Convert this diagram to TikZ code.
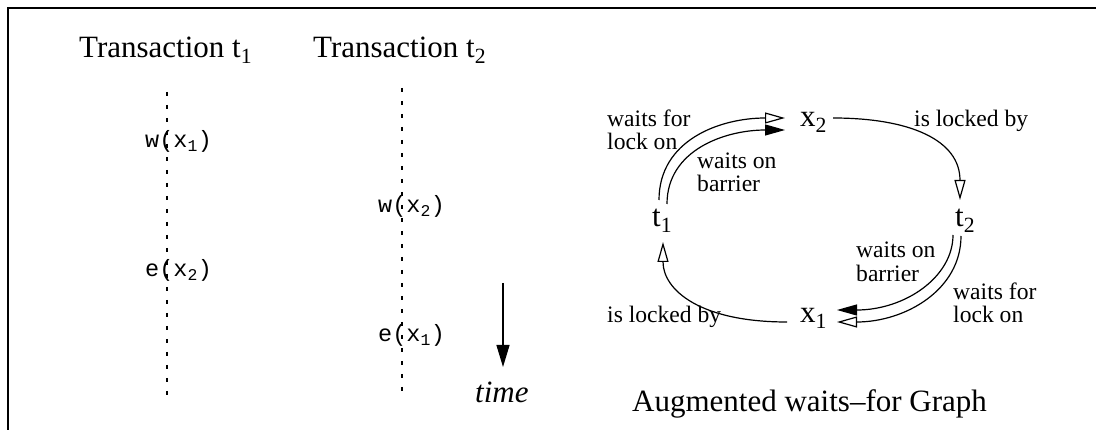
\documentclass[tikz,border=0pt]{standalone}
\usepackage{fontspec}
\setmainfont{Liberation Serif}
\setmonofont{Liberation Mono}
\usetikzlibrary{arrows.meta}

\begin{document}
\begin{tikzpicture}[x=1pt,y=-1pt,
  big/.style={font=\fontsize{31}{34}\selectfont, inner sep=0pt, anchor=base west},
  op/.style={font=\fontsize{23.5}{26}\selectfont\ttfamily, inner sep=0pt, anchor=base west},
  lbl/.style={font=\fontsize{23.6}{23.5}\selectfont, inner sep=0pt, anchor=base west},
  edge/.style={line width=1.2pt},
  lock/.style={edge, -{Triangle[open,length=20pt,width=11pt]}},
  barrier/.style={edge, -{Triangle[length=20pt,width=11pt]}},
  lifeline/.style={line width=1.3pt, dash pattern=on 4pt off 9pt}
]
\useasboundingbox (0,0) rectangle (1096,430);

% frame (top and left edges)
\draw[line width=1.5pt] (8,430) |- (1096,8);

% schedule of the two transactions
\node[big] (tr1) at (79,58) {Transaction t\textsubscript{1}};
\node[big] (tr2) at (313,58) {Transaction t\textsubscript{2}};

\coordinate (l1top) at (167,92);
\coordinate (l1bot) at (167,398);
\coordinate (l2top) at (402,88);
\coordinate (l2bot) at (402,398);
\draw[lifeline] (l1top) -- (l1bot);
\draw[lifeline] (l2top) -- (l2bot);

\node[op] (w1) at (145,148) {w(x\textsubscript{1})};
\node[op] (e2) at (145,277) {e(x\textsubscript{2})};
\node[op] (w2) at (378,213) {w(x\textsubscript{2})};
\node[op] (e1) at (378,342) {e(x\textsubscript{1})};

\coordinate (tstart) at (503,283);
\coordinate (tend) at (503,367);
\draw[edge, -{Triangle[length=22pt,width=13pt]}] (tstart) -- (tend);
\node[big, font=\fontsize{31}{34}\selectfont\itshape] (time) at (475,403) {time};

% augmented waits-for graph
\node[big] (x2) at (800,127) {x\textsubscript{2}};
\node[big] (t1) at (652,227) {t\textsubscript{1}};
\node[big] (t2) at (955,227) {t\textsubscript{2}};
\node[big] (x1) at (800,323) {x\textsubscript{1}};

\draw[lock] ([shift={(33,-9)}]x2.base west) .. controls +(77,0) and +(0,-60) .. ([shift={(5,-27)}]t2.base west);
\draw[lock] ([shift={(-13,-1)}]x1.base west) .. controls +(-87,0) and +(0,48) .. ([shift={(11,15)}]t1.base west);

\draw[lock] ([shift={(7,-27)}]t1.base west) .. controls +(0,-60) and +(-65,0) .. ([shift={(-15,-9)}]x2.base west);
\draw[barrier] ([shift={(15,-23)}]t1.base west) .. controls +(0,-54) and +(-60,0) .. ([shift={(-15,3)}]x2.base west);

\draw[barrier] ([shift={(-2,8)}]t2.base west) .. controls +(0,42) and +(68,0) .. ([shift={(37,-13)}]x1.base west);
\draw[lock] ([shift={(6,9)}]t2.base west) .. controls +(0,54) and +(68,0) .. ([shift={(37,-1)}]x1.base west);

\node[lbl] (wl1a) at (607,127) {waits for};
\node[lbl] (wl1b) at (607,150) {lock on};
\node[lbl] (wb1a) at (697,169) {waits on};
\node[lbl] (wb1b) at (697,192) {barrier};
\node[lbl] (lk2) at (914,127) {is locked by};
\node[lbl] (wb2a) at (856,258) {waits on};
\node[lbl] (wb2b) at (856,282) {barrier};
\node[lbl] (wl2a) at (953,300) {waits for};
\node[lbl] (wl2b) at (953,323) {lock on};
\node[lbl] (lk1) at (607,323) {is locked by};

\node[big] (title) at (632,412) {Augmented waits–for Graph};
\end{tikzpicture}
\end{document}
